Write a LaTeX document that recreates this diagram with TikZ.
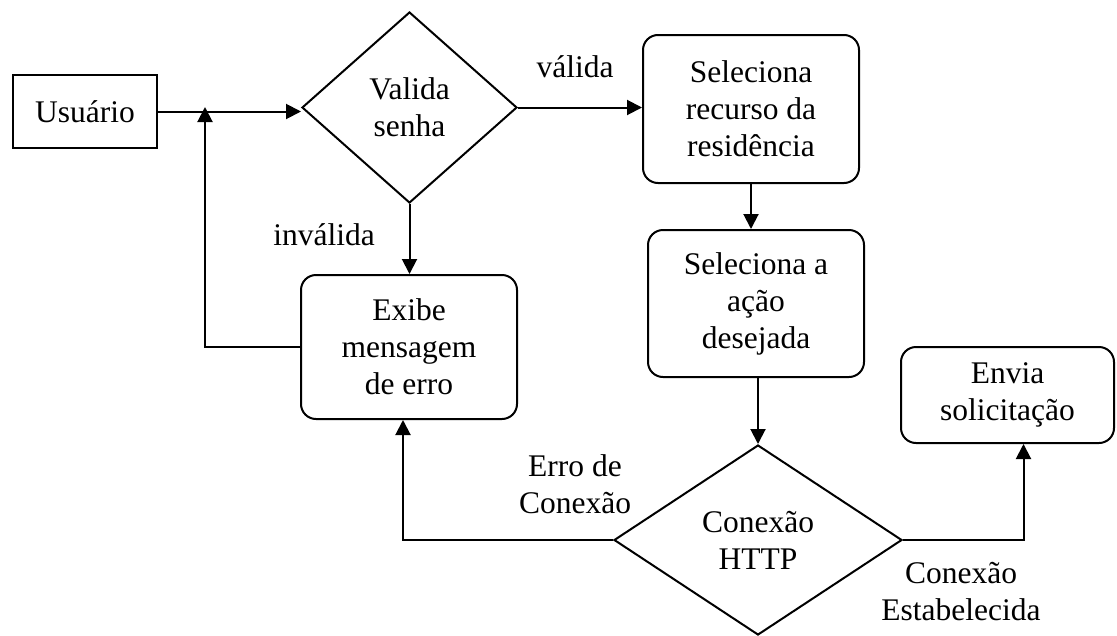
\documentclass[tikz,border=0pt]{standalone}
\usepackage{fontspec}
\setmainfont{Liberation Serif}
\usetikzlibrary{shapes.geometric,arrows.meta,calc}
\begin{document}
\begin{tikzpicture}[x=1pt,y=-1pt,
  line width=2pt,
  every node/.style={font=\fontsize{31.5pt}{37pt}\selectfont, align=center, inner sep=0pt},
  sqbox/.style={draw, rectangle},
  rbox/.style={draw, rectangle, rounded corners=15pt},
  decision/.style={draw, diamond},
  lbl/.style={},
  arr/.style={-{Triangle[length=15pt,width=15pt]}}
]
\useasboundingbox (0,0) rectangle (1117,635);

\node[sqbox, minimum width=144pt, minimum height=73pt] (usuario) at (85,111.5) {Usuário};
\node[decision, minimum width=215pt, minimum height=191pt] (valida) at (409.5,107.5) {Valida\\senha};
\node[rbox, minimum width=216pt, minimum height=148pt] (sel1) at (751,109) {Seleciona\\recurso da\\residência};
\node[rbox, minimum width=216pt, minimum height=147pt] (sel2) at (756,303.5) {Seleciona a\\ação\\desejada};
\node[rbox, minimum width=216pt, minimum height=144pt] (exibe) at (409,347) {Exibe\\mensagem\\de erro};
\node[decision, minimum width=288pt, minimum height=190pt] (http) at (758,540) {Conexão\\HTTP};
\node[rbox, minimum width=213pt, minimum height=96pt] (envia) at (1007.5,395) {Envia\\solicitação};

\node[lbl] (lvalida) at (575,67) {válida};
\node[lbl] (linvalida) at (324,235) {inválida};
\node[lbl] (lerro) at (575,484) {Erro de\\Conexão};
\node[lbl] (lest) at (961,592) {Conexão\\Estabelecida};

\coordinate (fb) at (205,107);

\draw[arr] (usuario.east) -- (usuario.east -| valida.west);
\draw[arr] (exibe.west) -| (fb);
\draw[arr] (valida.east) -- (valida.east -| sel1.west);
\draw[arr] (valida.south) -- (valida.south |- exibe.north);
\draw[arr] (sel1.south) -- (sel1.south |- sel2.north);
\draw[arr] (http.north |- sel2.south) -- (http.north);
\draw[arr] (http.west) -| ($(exibe.south)+(-6,0)$);
\draw[arr] (http.east) -| ($(envia.south)+(16,0)$);
\end{tikzpicture}
\end{document}
